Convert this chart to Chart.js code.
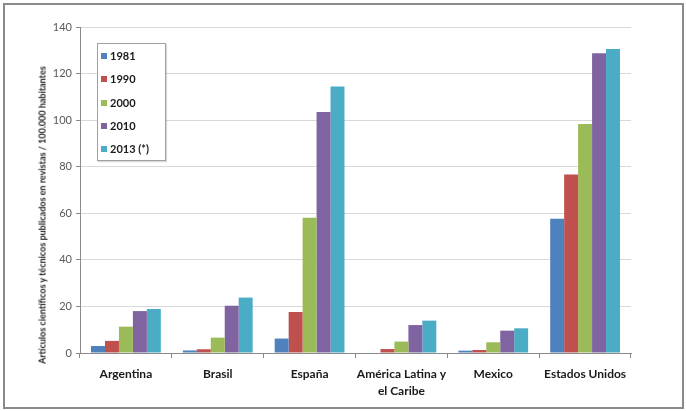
<!DOCTYPE html>
<html>
<head>
<meta charset="utf-8">
<script src="https://cdn.jsdelivr.net/npm/chart.js@4"></script>
<style>
  body { margin: 0; background: #fff; }
  #wrap { position: relative; width: 686px; height: 411px; }
  #frame { position: absolute; left: 3px; top: 3px; width: 677px; height: 402px; border: 2px solid #8a8a8a; pointer-events: none; }
  #legend { position: absolute; left: 97px; top: 43px; width: 67px; height: 116px; border: 1px solid #a0a0a0; background: #fff;
            font: bold 11px Lato, "Open Sans", sans-serif; color: #1a1a1a; box-shadow: 1px 1px 1px rgba(0,0,0,0.15); }
  #legend div { position: absolute; left: 3px; height: 14px; line-height: 14px; white-space: nowrap; }
  #legend span { display: inline-block; width: 6px; height: 6px; margin-right: 3px; vertical-align: 1px; }
  #ytitle { position: absolute; left: 42px; top: 215px; transform: translate(-50%, -50%) rotate(-90deg);
            font: bold 9px Lato, "Open Sans", sans-serif; color: #1a1a1a; white-space: nowrap; }
</style>
</head>
<body>
<div id="wrap">
  <canvas id="chart" width="686" height="411"></canvas>
  <div id="ytitle">Artículos científicos y técnicos publicados en revistas / 100.000 habitantes</div>
  <div id="legend"></div>
  <div id="frame"></div>
</div>
<script>
/* DATA */
const countries = ['Argentina', 'Brasil', 'España', ['América Latina y', 'el Caribe'], 'Mexico', 'Estados Unidos']
const years = ['1981', '1990', '2000', '2010', '2013 (*)']
const colors = ['#4F81BD', '#C0504D', '#9BBB59', '#8064A2', '#4BACC6']

const v1981 = [3.0, 1.1, 6.2, 0, 1.0, 57.7]
const v1990 = [5.2, 1.6, 17.6, 1.7, 1.3, 76.7]
const v2000 = [11.3, 6.6, 58.1, 4.9, 4.6, 98.3]
const v2010 = [18.0, 20.3, 103.5, 12.0, 9.6, 128.7]
const v2013 = [18.9, 23.8, 114.4, 13.9, 10.6, 130.5]

const yTicks = [0, 20, 40, 60, 80, 100, 120, 140]

const series = [v1981, v1990, v2000, v2010, v2013]

/* CHART */
const datasets = series.map((values, i) => {
  return {
    label: years[i],
    data: values,
    backgroundColor: colors[i],
    barPercentage: 1,
    categoryPercentage: 0.76
  }
})

const chart = new Chart(document.getElementById('chart'), {
  type: 'bar',
  data: { labels: countries, datasets: datasets },
  options: {
    responsive: false,
    animation: false,
    layout: { padding: { top: 27, right: 55, left: 0, bottom: 0 } },
    plugins: { legend: { display: false }, tooltip: { enabled: false } },
    scales: {
      x: {
        offset: true,
        grid: { display: true, drawOnChartArea: false, offset: true, tickLength: 5, color: '#8a8a8a' },
        border: { color: '#8a8a8a' },
        ticks: {
          padding: 8,
          color: '#1a1a1a',
          maxRotation: 0,
          autoSkip: false,
          font: { family: 'Lato, "Open Sans", sans-serif', size: 12, weight: 'bold', lineHeight: 1.4 }
        },
        afterFit: (scale) => { scale.height = 411 - 353 }
      },
      y: {
        min: 0,
        max: 140,
        afterBuildTicks: (scale) => { scale.ticks = yTicks.map((v) => ({ value: v })) },
        grid: { color: '#d9d9d9', tickLength: 4, tickColor: '#8a8a8a' },
        border: { color: '#8a8a8a' },
        ticks: {
          padding: 4,
          color: '#595959',
          font: { family: 'Lato, "Open Sans", sans-serif', size: 11 }
        },
        afterFit: (scale) => { scale.width = 80 }
      }
    }
  }
})

/* LEGEND */
const legend = document.getElementById('legend')
chart.data.datasets.forEach((ds, i) => {
  const item = document.createElement('div')
  item.style.top = (5 + i * 23.3) + 'px'
  item.innerHTML = '<span style="background:' + ds.backgroundColor + '"></span>' + ds.label
  legend.appendChild(item)
})
</script>
</body>
</html>
